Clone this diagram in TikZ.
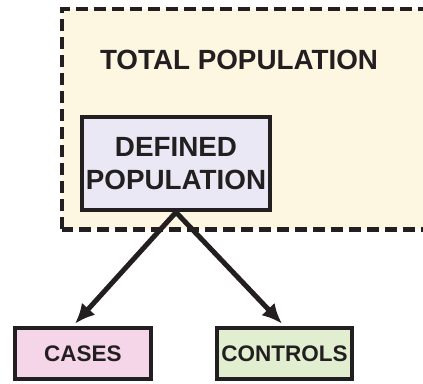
\documentclass[tikz,border=0pt]{standalone}
\usepackage{fontspec}
\setmainfont{Liberation Sans}
\usepackage{xcolor}
\usepackage{tikz}
\usetikzlibrary{arrows.meta}

\definecolor{inkgray}{HTML}{231F20}
\definecolor{totalfill}{HTML}{FDF6E0}
\definecolor{definedfill}{HTML}{E9E8F4}
\definecolor{casesfill}{HTML}{F5D6E8}
\definecolor{controlsfill}{HTML}{E1EFD0}

\tikzset{
    groupbox/.style={draw=inkgray, line width=4.5pt, align=center, inner sep=0pt,
        font=\bfseries, text=inkgray},
    choice/.style={draw=inkgray, line width=5pt, -{Latex[length=20pt, width=18pt]}}
}

\begin{document}
\begin{tikzpicture}[x=1pt, y=1pt]
    \useasboundingbox (0,0) rectangle (423,383);

    % total population
    \begin{scope}
    \clip (0,0) rectangle (423,383);
    \draw[fill=totalfill, draw=inkgray, line width=4.5pt, dash pattern=on 12pt off 6pt]
        (62,153.5) rectangle (450,374);
    \end{scope}
    \node[anchor=base, font=\fontsize{27.8}{32}\selectfont\bfseries, text=inkgray]
        (total) at (239,313) {TOTAL POPULATION};

    % defined population
    \node[groupbox, fill=definedfill, minimum width=188pt, minimum height=93pt,
        font=\fontsize{27.8}{33.5}\selectfont\bfseries]
        (defined) at (176,219.5) {DEFINED\\POPULATION};

    % cases and controls
    \node[groupbox, fill=casesfill, minimum width=136pt, minimum height=51pt,
        font=\fontsize{22.5}{27}\selectfont\bfseries]
        (cases) at (83,29.5) {CASES};
    \node[groupbox, fill=controlsfill, minimum width=135pt, minimum height=51pt,
        font=\fontsize{22.5}{27}\selectfont\bfseries]
        (controls) at (284.5,29.5) {CONTROLS};

    % arrows
    \draw[choice] (defined.south) -- ([xshift=-8pt, yshift=2pt]cases.north);
    \draw[choice] (defined.south) -- ([xshift=-2.5pt, yshift=2pt]controls.north);

\end{tikzpicture}
\end{document}
